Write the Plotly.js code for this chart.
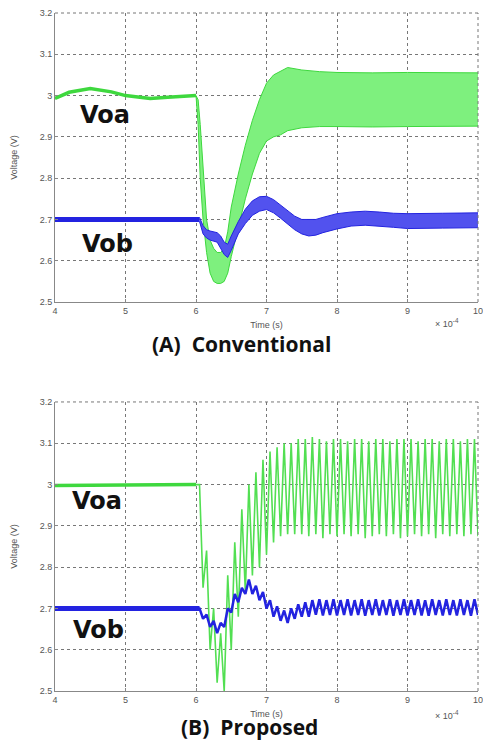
<!DOCTYPE html>
<html>
<head>
<meta charset="utf-8">
<script src="https://cdn.plot.ly/plotly-3.0.1.min.js"></script>
<style>
html,body{margin:0;padding:0;background:#fff;}
#chart{width:483px;height:755px;}
</style>
</head>
<body>
<div id="chart"></div>
<script>
// ---------- (A) Conventional ----------
// Voa before the step (smooth line)
const tA_pre   = [4.0, 4.2, 4.5, 4.8, 5.0, 5.2, 5.35, 5.6, 5.8, 6.0];
const voaA_pre = [2.993, 3.008, 3.017, 3.009, 3.0, 2.995, 2.993, 2.996, 2.999, 3.0];
// Voa after the step: envelope of the dense oscillation
const tA_voa   = [6.0, 6.03, 6.06, 6.1, 6.15, 6.2, 6.25, 6.3, 6.35, 6.4, 6.45, 6.5, 6.6, 6.7, 6.8, 6.9, 7.0, 7.1, 7.2, 7.3, 7.5, 7.75, 8.0, 8.5, 9.0, 9.5, 10.0];
const voaA_hi  = [3.0, 2.99, 2.93, 2.82, 2.70, 2.65, 2.63, 2.62, 2.62, 2.63, 2.67, 2.73, 2.81, 2.88, 2.94, 2.99, 3.03, 3.05, 3.06, 3.068, 3.062, 3.058, 3.056, 3.055, 3.056, 3.055, 3.055];
const voaA_lo  = [3.0, 2.93, 2.80, 2.70, 2.62, 2.57, 2.55, 2.545, 2.545, 2.55, 2.57, 2.61, 2.68, 2.75, 2.81, 2.86, 2.89, 2.90, 2.905, 2.915, 2.922, 2.925, 2.925, 2.924, 2.925, 2.926, 2.926];
// Vob before the step
const tA_vobPre = [4.0, 6.05];
const vobA_pre  = [2.70, 2.70];
// Vob after the step: envelope
const tA_vob   = [6.05, 6.1, 6.15, 6.2, 6.3, 6.35, 6.4, 6.45, 6.5, 6.6, 6.7, 6.8, 6.9, 7.0, 7.1, 7.2, 7.3, 7.4, 7.5, 7.6, 7.7, 7.8, 8.0, 8.2, 8.4, 8.6, 8.8, 9.0, 9.2, 9.5, 10.0];
const vobA_hi  = [2.705, 2.685, 2.675, 2.672, 2.668, 2.66, 2.645, 2.64, 2.66, 2.695, 2.725, 2.745, 2.755, 2.756, 2.748, 2.735, 2.72, 2.708, 2.70, 2.70, 2.70, 2.705, 2.714, 2.718, 2.72, 2.718, 2.715, 2.714, 2.714, 2.715, 2.716];
const vobA_lo  = [2.695, 2.665, 2.655, 2.65, 2.645, 2.63, 2.615, 2.608, 2.625, 2.665, 2.69, 2.71, 2.72, 2.724, 2.716, 2.703, 2.69, 2.675, 2.665, 2.66, 2.662, 2.668, 2.677, 2.684, 2.686, 2.684, 2.681, 2.678, 2.678, 2.679, 2.68];

// ---------- (B) Proposed ----------
const tB = [4.0, 6.0,
  6.05, 6.10, 6.15, 6.20, 6.25, 6.30, 6.35, 6.40, 6.45, 6.50,
  6.55, 6.60, 6.65, 6.70, 6.75, 6.80, 6.85, 6.90, 6.95, 7.00,
  7.05, 7.10, 7.15, 7.20, 7.25, 7.30, 7.35, 7.40, 7.45, 7.50,
  7.55, 7.60, 7.65, 7.70, 7.75, 7.80, 7.85, 7.90, 7.95, 8.00,
  8.05, 8.10, 8.15, 8.20, 8.25, 8.30, 8.35, 8.40, 8.45, 8.50,
  8.55, 8.60, 8.65, 8.70, 8.75, 8.80, 8.85, 8.90, 8.95, 9.00,
  9.05, 9.10, 9.15, 9.20, 9.25, 9.30, 9.35, 9.40, 9.45, 9.50,
  9.55, 9.60, 9.65, 9.70, 9.75, 9.80, 9.85, 9.90, 9.95, 10.00];
const voaB = [2.998, 3.0,
  3.0, 2.75, 2.84, 2.60, 2.70, 2.52, 2.64, 2.50, 2.78, 2.60,
  2.86, 2.68, 2.94, 2.74, 3.00, 2.78, 3.03, 2.80, 3.06, 2.83,
  3.08, 2.86, 3.09, 2.875, 3.10, 2.88, 3.10, 2.88, 3.11, 2.88,
  3.11, 2.875, 3.115, 2.88, 3.11, 2.87, 3.105, 2.88, 3.11, 2.875,
  3.11, 2.88, 3.105, 2.875, 3.11, 2.88, 3.11, 2.87, 3.105, 2.875,
  3.11, 2.88, 3.11, 2.875, 3.105, 2.88, 3.11, 2.87, 3.11, 2.875,
  3.11, 2.88, 3.105, 2.875, 3.11, 2.88, 3.11, 2.87, 3.105, 2.88,
  3.11, 2.875, 3.11, 2.88, 3.105, 2.875, 3.11, 2.88, 3.11, 2.875];
const vobB = [2.70, 2.70,
  2.70, 2.675, 2.685, 2.655, 2.67, 2.64, 2.665, 2.655, 2.70, 2.69,
  2.735, 2.715, 2.75, 2.735, 2.77, 2.735, 2.755, 2.72, 2.74, 2.70,
  2.72, 2.68, 2.705, 2.67, 2.695, 2.665, 2.70, 2.675, 2.71, 2.68,
  2.715, 2.68, 2.72, 2.685, 2.722, 2.683, 2.72, 2.684, 2.722, 2.683,
  2.72, 2.684, 2.722, 2.683, 2.72, 2.684, 2.722, 2.682, 2.72, 2.684,
  2.722, 2.683, 2.72, 2.684, 2.722, 2.682, 2.72, 2.684, 2.722, 2.683,
  2.72, 2.684, 2.722, 2.683, 2.72, 2.682, 2.722, 2.684, 2.72, 2.683,
  2.722, 2.684, 2.72, 2.683, 2.722, 2.684, 2.72, 2.682, 2.722, 2.684];

const xTicks = [4, 5, 6, 7, 8, 9, 10];
const yTicks = [2.5, 2.6, 2.7, 2.8, 2.9, 3.0, 3.1, 3.2];
const panelTitles = ['(A)  Conventional', '(B)  Proposed'];
const seriesNames = ['Voa', 'Vob'];

const GREEN = '#3ed83e', GREEN_FILL = '#7ef07e', BLUE = '#2323e0', BLUE_FILL = '#5252ee';

const traces = [
  // panel A
  {x: tA_voa, y: voaA_lo, xaxis: 'x', yaxis: 'y', mode: 'lines', line: {color: GREEN, width: 1}, hoverinfo: 'skip'},
  {x: tA_voa, y: voaA_hi, xaxis: 'x', yaxis: 'y', mode: 'lines', fill: 'tonexty', fillcolor: GREEN_FILL, line: {color: GREEN, width: 1}},
  {x: tA_pre, y: voaA_pre, xaxis: 'x', yaxis: 'y', mode: 'lines', line: {color: GREEN, width: 3.5}},
  {x: tA_vob, y: vobA_lo, xaxis: 'x', yaxis: 'y', mode: 'lines', line: {color: BLUE, width: 1}, hoverinfo: 'skip'},
  {x: tA_vob, y: vobA_hi, xaxis: 'x', yaxis: 'y', mode: 'lines', fill: 'tonexty', fillcolor: BLUE_FILL, line: {color: BLUE, width: 1}},
  {x: tA_vobPre, y: vobA_pre, xaxis: 'x', yaxis: 'y', mode: 'lines', line: {color: BLUE, width: 5}},
  // panel B
  {x: tB, y: voaB, xaxis: 'x2', yaxis: 'y2', mode: 'lines', line: {color: '#52df52', width: 1.6}},
  {x: tB.slice(0, 2), y: voaB.slice(0, 2), xaxis: 'x2', yaxis: 'y2', mode: 'lines', line: {color: GREEN, width: 3.5}},
  {x: tB, y: vobB, xaxis: 'x2', yaxis: 'y2', mode: 'lines', line: {color: BLUE, width: 2.5}},
  {x: tB.slice(0, 3), y: vobB.slice(0, 3), xaxis: 'x2', yaxis: 'y2', mode: 'lines', line: {color: BLUE, width: 5}}
];

const tickFont = {family: 'Liberation Sans, Arial, sans-serif', size: 9, color: '#555'};
function xAxis(anchor) {
  return {
    anchor: anchor, range: [4, 10], tickvals: xTicks, ticktext: xTicks.map(String),
    showgrid: true, gridcolor: '#777', griddash: 'dot', gridwidth: 1,
    showline: true, linecolor: '#888', linewidth: 1, mirror: false,
    ticks: 'inside', ticklen: 3, tickcolor: '#888',
    tickfont: tickFont, zeroline: false, ticklabeloverflow: 'allow',
    title: {text: 'Time (s)', font: {family: 'Liberation Sans, Arial, sans-serif', size: 9, color: '#555'}, standoff: 6}
  };
}
function yAxis(anchor, domain) {
  return {
    anchor: anchor, domain: domain, range: [2.5, 3.2], tickvals: yTicks, ticktext: yTicks.map(v => String(v)),
    showgrid: true, gridcolor: '#777', griddash: 'dot', gridwidth: 1,
    showline: true, linecolor: '#888', linewidth: 1, mirror: false,
    ticks: 'inside', ticklen: 3, tickcolor: '#888',
    tickfont: tickFont, zeroline: false,
    title: {text: 'Voltage (V)', font: {family: 'Liberation Sans, Arial, sans-serif', size: 9, color: '#555'}, standoff: 20}
  };
}

const labelFont = {family: 'DejaVu Sans, sans-serif', size: 24, color: '#111', weight: 'bold'};
const titleFont = {family: 'Open Sans, Noto Sans, sans-serif', size: 21, color: '#111', weight: 'bold'};
const smallFont = {family: 'Liberation Sans, Arial, sans-serif', size: 9, color: '#555'};
const frameLine = {color: '#777', width: 1, dash: 'dot'};

const layout = {
  width: 483, height: 755,
  margin: {l: 55, r: 5, t: 13, b: 64},
  paper_bgcolor: '#fff', plot_bgcolor: '#fff',
  showlegend: false,
  xaxis: Object.assign(xAxis('y'), {domain: [0, 1]}),
  yaxis: yAxis('x', [0.5737, 1]),
  xaxis2: Object.assign(xAxis('y2'), {domain: [0, 1]}),
  yaxis2: yAxis('x2', [0, 0.4263]),
  shapes: [
    {type: 'line', xref: 'x domain', yref: 'y domain', x0: 1, x1: 1, y0: 0, y1: 1, line: frameLine},
    {type: 'line', xref: 'x2 domain', yref: 'y2 domain', x0: 1, x1: 1, y0: 0, y1: 1, line: frameLine},
    {type: 'line', xref: 'x domain', yref: 'y domain', x0: 0, x1: 1, y0: 1, y1: 1, line: frameLine},
    {type: 'line', xref: 'x2 domain', yref: 'y2 domain', x0: 0, x1: 1, y0: 1, y1: 1, line: frameLine}
  ],
  annotations: [
    {xref: 'x', yref: 'y', x: 4.71, y: 2.952, text: seriesNames[0], showarrow: false, font: labelFont},
    {xref: 'x', yref: 'y', x: 4.74, y: 2.64, text: seriesNames[1], showarrow: false, font: labelFont},
    {xref: 'x2', yref: 'y2', x: 4.6, y: 2.959, text: seriesNames[0], showarrow: false, font: labelFont},
    {xref: 'x2', yref: 'y2', x: 4.61, y: 2.647, text: seriesNames[1], showarrow: false, font: labelFont},
    {xref: 'paper', yref: 'paper', x: 0.442, y: 0.512, text: panelTitles[0], showarrow: false, font: titleFont},
    {xref: 'paper', yref: 'paper', x: 0.46, y: -0.0765, text: panelTitles[1], showarrow: false, font: titleFont},
    {xref: 'paper', yref: 'paper', x: 0.96, y: 0.543, text: '× 10<sup>-4</sup>', showarrow: false, font: smallFont},
    {xref: 'paper', yref: 'paper', x: 0.96, y: -0.047, text: '× 10<sup>-4</sup>', showarrow: false, font: smallFont}
  ]
};

Plotly.newPlot('chart', traces, layout, {staticPlot: true, displayModeBar: false});
</script>
</body>
</html>
